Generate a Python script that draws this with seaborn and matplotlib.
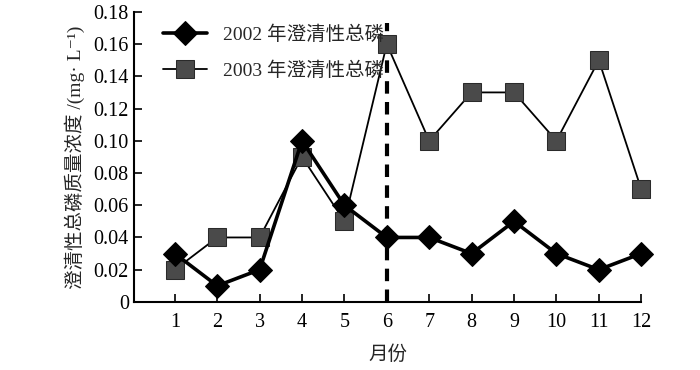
import pandas as pd
import numpy as np
import matplotlib
matplotlib.use("Agg")
import matplotlib.pyplot as plt
import seaborn as sns

sns.set_style("ticks")
plt.rcParams['font.family'] = ['Liberation Serif', 'Noto Sans CJK SC', 'DejaVu Sans']
plt.rcParams['axes.unicode_minus'] = False

months = list(range(1, 13))
tp_2002 = [0.03, 0.01, 0.02, 0.10, 0.06, 0.04, 0.04, 0.03, 0.05, 0.03, 0.02, 0.03]
tp_2003 = [0.02, 0.04, 0.04, 0.09, 0.05, 0.16, 0.10, 0.13, 0.13, 0.10, 0.15, 0.07]
label_2002 = "2002 年澄清性总磷"
label_2003 = "2003 年澄清性总磷"

df = pd.DataFrame({"月份": months, "2002": tp_2002, "2003": tp_2003})

fig = plt.figure(figsize=(7, 3.7), dpi=100)
ax = fig.add_axes([0.191, 0.184, 0.725, 0.784])

sns.lineplot(data=df, x="月份", y="2002", ax=ax, color="black", lw=2.6,
             marker="D", markersize=12, markerfacecolor="black",
             markeredgecolor="black", label=label_2002, zorder=3, clip_on=False)
sns.lineplot(data=df, x="月份", y="2003", ax=ax, color="black", lw=1.3,
             marker="s", markersize=13, markerfacecolor="#4a4a4a",
             markeredgecolor="#2a2a2a", label=label_2003, zorder=2, clip_on=False)

# 6月分界线
ax.plot([6, 6], [0, 0.173], color="black", lw=3, ls=(0, (3, 2)), zorder=1)

ax.set_xlim(0.03, 12)
ax.set_ylim(0, 0.18)
ax.set_xticks(months)
ax.set_yticks(np.arange(0, 0.181, 0.02))
ax.set_yticklabels(["0"] + ["%.2f" % v for v in np.arange(0.02, 0.181, 0.02)])
ax.tick_params(direction="in", length=6, width=1.2, labelsize=14.5, colors="black")
ax.tick_params(axis="x", pad=8)
for s in ["top", "right"]:
    ax.spines[s].set_visible(False)
for s in ["left", "bottom"]:
    ax.spines[s].set_linewidth(1.5)
    ax.spines[s].set_color("black")

ax.set_xlabel("月份", fontsize=14, labelpad=10)
ax.set_ylabel("澄清性总磷质量浓度 /(mg· L⁻¹)", fontsize=14, labelpad=6)

ax.legend(loc="upper left", bbox_to_anchor=(0.03, 1.0), frameon=False,
          fontsize=14, handlelength=2.3, labelspacing=0.9, borderaxespad=0.3)

plt.savefig("out.png", dpi=100)
